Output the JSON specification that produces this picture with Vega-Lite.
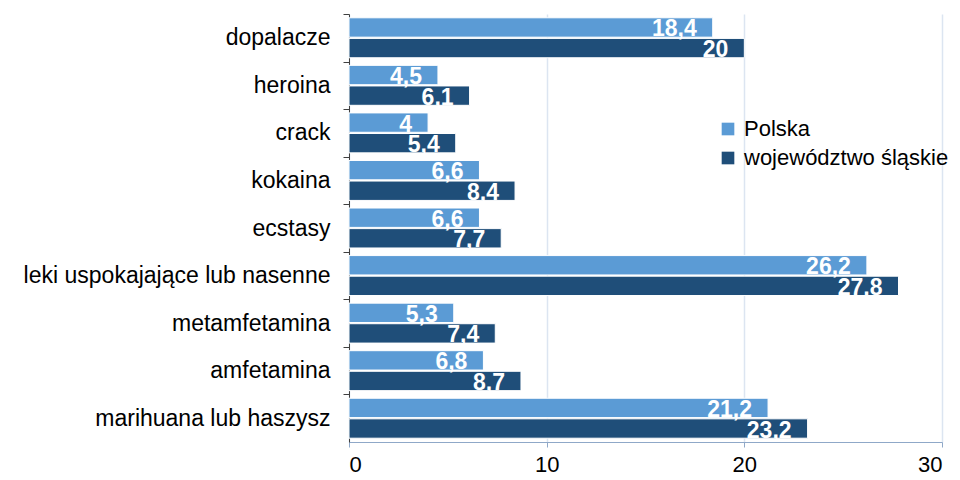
{
  "$schema": "https://vega.github.io/schema/vega-lite/v6.json",
  "width": 593,
  "height": 428,
  "autosize": {"type": "none"},
  "padding": {"left": 349, "top": 14, "right": 18, "bottom": 38},
  "background": "white",
  "config": {
    "view": {"stroke": null},
    "font": "Liberation Sans",
    "text": {"font": "Liberation Sans"}
  },
  "data": {
    "values": [
      {"kategoria": "dopalacze", "seria": "Polska", "wartosc": 18.4, "etykieta": "18,4"},
      {"kategoria": "dopalacze", "seria": "województwo śląskie", "wartosc": 20, "etykieta": "20"},
      {"kategoria": "heroina", "seria": "Polska", "wartosc": 4.5, "etykieta": "4,5"},
      {"kategoria": "heroina", "seria": "województwo śląskie", "wartosc": 6.1, "etykieta": "6,1"},
      {"kategoria": "crack", "seria": "Polska", "wartosc": 4, "etykieta": "4"},
      {"kategoria": "crack", "seria": "województwo śląskie", "wartosc": 5.4, "etykieta": "5,4"},
      {"kategoria": "kokaina", "seria": "Polska", "wartosc": 6.6, "etykieta": "6,6"},
      {"kategoria": "kokaina", "seria": "województwo śląskie", "wartosc": 8.4, "etykieta": "8,4"},
      {"kategoria": "ecstasy", "seria": "Polska", "wartosc": 6.6, "etykieta": "6,6"},
      {"kategoria": "ecstasy", "seria": "województwo śląskie", "wartosc": 7.7, "etykieta": "7,7"},
      {"kategoria": "leki uspokajające lub nasenne", "seria": "Polska", "wartosc": 26.2, "etykieta": "26,2"},
      {"kategoria": "leki uspokajające lub nasenne", "seria": "województwo śląskie", "wartosc": 27.8, "etykieta": "27,8"},
      {"kategoria": "metamfetamina", "seria": "Polska", "wartosc": 5.3, "etykieta": "5,3"},
      {"kategoria": "metamfetamina", "seria": "województwo śląskie", "wartosc": 7.4, "etykieta": "7,4"},
      {"kategoria": "amfetamina", "seria": "Polska", "wartosc": 6.8, "etykieta": "6,8"},
      {"kategoria": "amfetamina", "seria": "województwo śląskie", "wartosc": 8.7, "etykieta": "8,7"},
      {"kategoria": "marihuana lub haszysz", "seria": "Polska", "wartosc": 21.2, "etykieta": "21,2"},
      {"kategoria": "marihuana lub haszysz", "seria": "województwo śląskie", "wartosc": 23.2, "etykieta": "23,2"}
    ]
  },
  "encoding": {
    "y": {
      "field": "kategoria",
      "type": "nominal",
      "sort": null,
      "title": null,
      "scale": {"paddingInner": 0.16, "paddingOuter": 0.08},
      "axis": {
        "labelFontSize": 23,
        "labelColor": "#000000",
        "labelFont": "Liberation Sans",
        "labelPadding": 13,
        "tickSize": 6,
        "tickColor": "#404040",
        "domainColor": "#404040",
        "tickOffset": -23.8,
        "labelOffset": 23.8,
        "labelLimit": 400
      }
    },
    "yOffset": {
      "field": "seria",
      "type": "nominal",
      "scale": {"paddingInner": 0.06}
    },
    "x": {
      "field": "wartosc",
      "type": "quantitative",
      "title": null,
      "scale": {"domain": [0, 30], "nice": false},
      "axis": {
        "values": [0, 10, 20, 30],
        "labelFontSize": 22,
        "labelColor": "#000000",
        "labelFont": "Liberation Sans",
        "labelPadding": 7,
        "tickSize": 5,
        "tickColor": "#8FA8C8",
        "domainColor": "#8FA8C8",
        "grid": true,
        "gridColor": "#DCE5F1",
        "gridWidth": 1.5
      }
    }
  },
  "layer": [
    {
      "mark": {"type": "bar", "stroke": "white", "strokeWidth": 1},
      "encoding": {
        "color": {
          "field": "seria",
          "type": "nominal",
          "title": null,
          "scale": {"domain": ["Polska", "województwo śląskie"], "range": ["#5B9BD5", "#1F4E79"]},
          "legend": {
            "orient": "none",
            "legendX": 368,
            "legendY": 104,
            "symbolType": "square",
            "symbolSize": 160,
            "symbolStrokeWidth": 0,
            "labelFontSize": 22,
            "labelColor": "#000000",
            "labelFont": "Liberation Sans",
            "labelOffset": 5,
            "rowPadding": 7,
            "padding": 0,
            "labelLimit": 400
          }
        }
      }
    },
    {
      "mark": {
        "type": "text",
        "align": "right",
        "baseline": "alphabetic",
        "dx": -16,
        "dy": 9,
        "fontSize": 23,
        "fontWeight": "bold",
        "color": "white",
        "font": "Liberation Sans"
      },
      "encoding": {
        "text": {"field": "etykieta"}
      }
    }
  ]
}
